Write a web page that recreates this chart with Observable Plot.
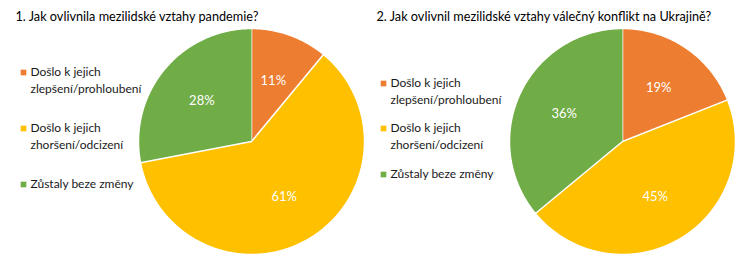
<!DOCTYPE html>
<html>
<head>
<meta charset="utf-8">
<script src="https://cdn.jsdelivr.net/npm/d3@7"></script>
<script src="https://cdn.jsdelivr.net/npm/@observablehq/plot@0.6"></script>
<style>
  html, body { margin: 0; padding: 0; background: #fff; }
</style>
</head>
<body>
<div id="chart"></div>
<script>
// ---- data ----
const categories = ["Došlo k jejich zlepšení/prohloubení", "Došlo k jejich zhoršení/odcizení", "Zůstaly beze změny"];
const legendLabels = ["Došlo k jejich\nzlepšení/prohloubení", "Došlo k jejich\nzhoršení/odcizení", "Zůstaly beze změny"];
const pandemie = [11, 61, 28];
const ukrajina = [19, 45, 36];
const titles = ["1. Jak ovlivnila mezilidské vztahy pandemie?", "2. Jak ovlivnil mezilidské vztahy válečný konflikt na Ukrajině?"];
const colors = ["#ED7D31", "#FFC000", "#70AD47"];

// ---- layout ----
const W = 746, H = 261;
const font = "Lato, 'Open Sans', sans-serif";
const pies = [
  {values: pandemie, title: titles[0], cx: 251, cy: 141, r: 113, titleX: 15, legendX: 23, legendY: [72, 128, 184]},
  {values: ukrajina, title: titles[1], cx: 622, cy: 141, r: 113, titleX: 376, legendX: 383, legendY: [83, 128, 174]}
];

const slicePts = [], labels = [], titleRows = [], legendDots = [], legendText = [];
pies.forEach((p, pi) => {
  const total = d3.sum(p.values);
  const arcs = d3.pie().sort(null).value(d => d)(p.values);
  arcs.forEach((a, i) => {
    const key = pi + "-" + i;
    slicePts.push({key, cat: categories[i], x: p.cx, y: p.cy});
    const n = Math.max(2, Math.ceil((a.endAngle - a.startAngle) / 0.01));
    for (let k = 0; k <= n; k++) {
      const t = a.startAngle + (a.endAngle - a.startAngle) * k / n;
      slicePts.push({key, cat: categories[i], x: p.cx + p.r * Math.sin(t), y: p.cy - p.r * Math.cos(t)});
    }
    const m = (a.startAngle + a.endAngle) / 2;
    const lr = p.r * 0.57;
    labels.push({x: p.cx + lr * Math.sin(m), y: p.cy - lr * Math.cos(m), text: Math.round(100 * a.value / total) + "%"});
  });
  titleRows.push({x: p.titleX, y: 16, text: p.title});
  legendLabels.forEach((lab, i) => {
    legendDots.push({x: p.legendX, y: p.legendY[i], cat: categories[i]});
    lab.split("\n").forEach((line, j) => {
      legendText.push({x: p.legendX + 7, y: p.legendY[i] + j * 16.5, text: line});
    });
  });
});

const chart = Plot.plot({
  width: W, height: H, margin: 0,
  x: {domain: [0, W], range: [0, W], axis: null},
  y: {domain: [0, H], range: [0, H], axis: null},
  color: {domain: categories, range: colors},
  style: {fontFamily: font, background: "#fff", overflow: "visible"},
  marks: [
    Plot.line(slicePts, {x: "x", y: "y", z: "key", fill: "cat", stroke: "#fff", strokeWidth: 1.5, strokeLinejoin: "round", curve: "linear"}),
    Plot.text(labels, {x: "x", y: "y", text: "text", fill: "#fff", fontSize: 13}),
    Plot.text(titleRows, {x: "x", y: "y", text: "text", textAnchor: "start", fill: "#000", fontSize: 12.7}),
    Plot.dot(legendDots, {x: "x", y: "y", fill: "cat", symbol: "square", r: 3.2, stroke: null}),
    Plot.text(legendText, {x: "x", y: "y", text: "text", textAnchor: "start", fill: "#1a1a1a", fontSize: 12})
  ]
});
document.getElementById("chart").appendChild(chart);
</script>
</body>
</html>
